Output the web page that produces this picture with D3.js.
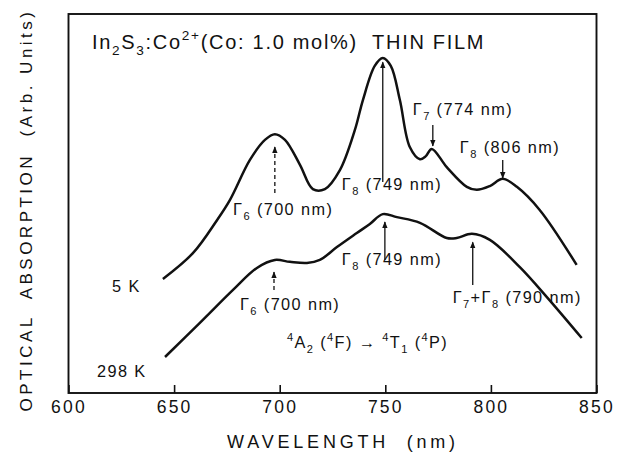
<!DOCTYPE html>
<html>
<head>
<meta charset="utf-8">
<script src="https://cdn.jsdelivr.net/npm/d3@7"></script>
<style>
body { margin: 0; background: #fff; }
svg text { font-family: "Liberation Sans", Arial, sans-serif; fill: #111; white-space: pre; }
</style>
</head>
<body>
<svg id="chart"></svg>
<script>
const width = 626;
const height = 460;
const margin = {top: 14, right: 29.5, bottom: 67, left: 68.5};

// spectra (wavelength in nm, absorption in arb. units 0-100)
const nm5K = [644.7, 658.9, 670.3, 676.4, 685.9, 693.0, 697.7, 702.5, 709.6, 715.7, 721.4, 728.5, 735.6, 739.4, 745.0, 748.8, 752.6, 756.9, 761.6, 766.4, 769.2, 772.0, 779.1, 788.6, 793.3, 799.5, 805.6, 812.3, 823.1, 840.6];
const abs5K = [30.1, 36.9, 45.6, 50.9, 61.5, 66.8, 68.3, 66.8, 60.2, 53.8, 53.8, 58.8, 69.4, 77.3, 86.3, 88.4, 86.3, 77.3, 64.9, 61.7, 62.5, 64.4, 59.6, 54.4, 53.6, 54.6, 56.5, 54.4, 48.3, 33.8];

const nm298K = [645.7, 662.2, 677.9, 689.2, 697.7, 704.8, 712.9, 719.0, 727.1, 736.5, 742.7, 748.8, 755.5, 766.4, 779.1, 783.8, 791.0, 799.5, 813.7, 826.5, 843.0];
const abs298K = [9.5, 18.5, 27.2, 33.0, 35.1, 34.6, 34.3, 35.1, 38.5, 42.2, 44.6, 47.2, 46.4, 44.9, 40.9, 40.9, 42.0, 40.4, 33.2, 25.3, 14.5];

const xTicks = [600, 650, 700, 750, 800, 850];

// arrows: wavelength, from value, to value, dashed
const arrowNm = [697.7, 748.8, 772.5, 805.6, 697.3, 749.8, 791.4];
const arrowFrom = [52.8, 55.7, 70.7, 61.5, 27.2, 35.1, 28.5];
const arrowTo = [64.9, 87.3, 65.2, 56.7, 31.9, 45.1, 39.8];
const arrowDashed = [true, false, false, false, true, false, false];

// text labels: "_x" subscript, "^x" superscript, braces for groups
const labelText = ["Γ_6 (700 nm)", "Γ_8 (749 nm)", "Γ_7 (774 nm)", "Γ_8 (806 nm)",
                   "Γ_6 (700 nm)", "Γ_8 (749 nm)", "Γ_7+Γ_8 (790 nm)",
                   "^4A_2 (^4F) → ^4T_1 (^4P)", "5 K", "298 K"];
const labelNm = [677.9, 729.4, 763.0, 785.3, 681.2, 729.4, 781.9, 703.4, 620.6, 613.5];
const labelAbs = [47.0, 53.6, 73.4, 63.3, 21.9, 33.8, 23.7, 11.9, 26.6, 4.2];

const titleText = "In_2S_3:Co^{2+}(Co: 1.0 mol%)  THIN FILM";
const titleNm = 611.1;
const titleAbs = 90.8;

const svg = d3.select('#chart')
    .attr('width', width)
    .attr('height', height);

const x = d3.scaleLinear().domain([600, 850]).range([margin.left, width - margin.right]);
const y = d3.scaleLinear().domain([0, 100]).range([height - margin.bottom, margin.top]);

svg.append('defs').append('marker')
    .attr('id', 'head')
    .attr('viewBox', '0 0 10 10')
    .attr('refX', 9).attr('refY', 5)
    .attr('markerWidth', 7).attr('markerHeight', 7)
    .attr('markerUnits', 'userSpaceOnUse')
    .attr('orient', 'auto')
    .append('path')
    .attr('d', 'M0,1 L10,5 L0,9 Z')
    .attr('fill', '#111');

// bottom axis, ticks pointing inwards
const xAxis = svg.append('g')
    .attr('transform', `translate(0, ${y(0)})`)
    .call(d3.axisBottom(x).tickValues(xTicks).tickSizeInner(-8).tickSizeOuter(0).tickPadding(8));
xAxis.select('.domain').remove();
xAxis.selectAll('line').attr('stroke', '#111').attr('stroke-width', 1.6);
xAxis.selectAll('text')
    .attr('font-size', 17.5)
    .attr('letter-spacing', 2.2)
    .attr('fill', '#111')
    .style('font-family', '"Liberation Sans", Arial, sans-serif');

// frame
svg.append('rect')
    .attr('x', x(600)).attr('y', y(100))
    .attr('width', x(850) - x(600)).attr('height', y(0) - y(100))
    .attr('fill', 'none').attr('stroke', '#111').attr('stroke-width', 1.9);

const line = d3.line()
    .x(d => x(d[0]))
    .y(d => y(d[1]))
    .curve(d3.curveCatmullRom.alpha(0.5));

svg.append('path')
    .datum(d3.zip(nm5K, abs5K))
    .attr('fill', 'none').attr('stroke', '#111').attr('stroke-width', 2.5)
    .attr('d', line);

svg.append('path')
    .datum(d3.zip(nm298K, abs298K))
    .attr('fill', 'none').attr('stroke', '#111').attr('stroke-width', 2.5)
    .attr('d', line);

svg.selectAll('.arrow')
    .data(d3.range(arrowNm.length))
    .enter()
    .append('line')
    .attr('class', 'arrow')
    .attr('x1', i => x(arrowNm[i])).attr('x2', i => x(arrowNm[i]))
    .attr('y1', i => y(arrowFrom[i])).attr('y2', i => y(arrowTo[i]))
    .attr('stroke', '#111').attr('stroke-width', 1.3)
    .attr('stroke-dasharray', i => arrowDashed[i] ? '4,3' : null)
    .attr('marker-end', 'url(#head)');

function richText(sel, str, size) {
    const parts = str.split(/(_\{[^}]*\}|\^\{[^}]*\}|_.|\^.)/).filter(s => s.length);
    let shift = 0;
    parts.forEach(p => {
        let kind = null, t = p;
        if (p[0] == '_' || p[0] == '^') {
            kind = p[0];
            t = p.slice(1).replace(/[{}]/g, '');
        }
        let target = kind == '_' ? size * 0.32 : kind == '^' ? -size * 0.42 : 0;
        sel.append('tspan')
            .attr('dy', target - shift)
            .attr('font-size', kind ? size * 0.68 : size)
            .text(t);
        shift = target;
    });
}

svg.selectAll('.label')
    .data(d3.range(labelText.length))
    .enter()
    .append('text')
    .attr('class', 'label')
    .attr('x', i => x(labelNm[i]))
    .attr('y', i => y(labelAbs[i]))
    .attr('letter-spacing', 1.4)
    .each(function(i) { richText(d3.select(this), labelText[i], 16.3); });

const title = svg.append('text')
    .attr('x', x(titleNm))
    .attr('y', y(titleAbs))
    .attr('letter-spacing', 1.7);
richText(title, titleText, 20);

svg.append('text')
    .attr('x', 343)
    .attr('y', 448)
    .attr('text-anchor', 'middle')
    .attr('font-size', 18)
    .attr('letter-spacing', 3.8)
    .text('WAVELENGTH  (nm)');

svg.append('text')
    .attr('transform', 'translate(32, 210) rotate(-90)')
    .attr('text-anchor', 'middle')
    .attr('font-size', 17)
    .attr('letter-spacing', 3.5)
    .text('OPTICAL  ABSORPTION  (Arb. Units)');
</script>
</body>
</html>
